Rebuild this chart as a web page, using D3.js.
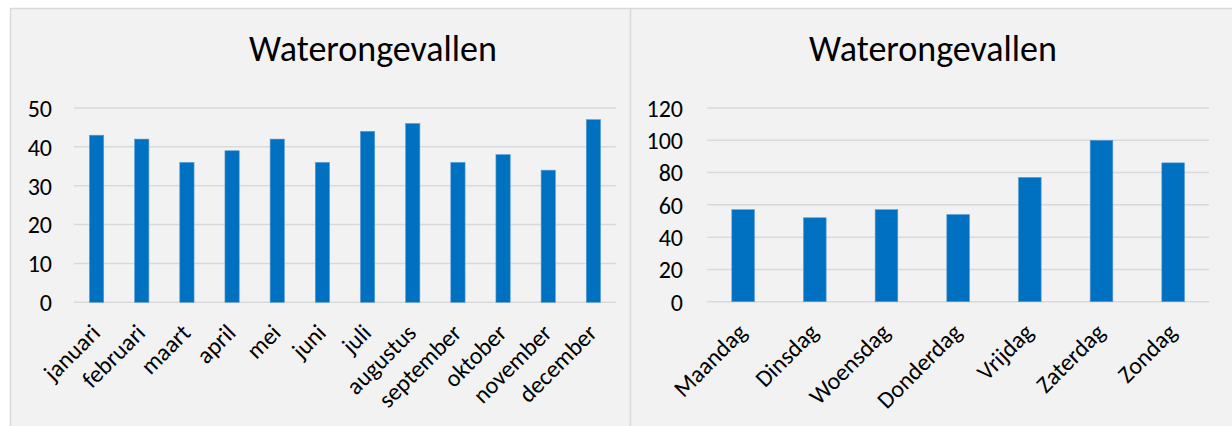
<!DOCTYPE html>
<html><head><meta charset="utf-8">
<script src="https://cdn.jsdelivr.net/npm/d3@7"></script>
<style>
html,body{margin:0;padding:0;background:#fff;}
svg{display:block;}
text{font-family:Carlito, Lato, "Open Sans", sans-serif;fill:#000;}
</style></head>
<body>
<svg id="c" width="1232" height="426"></svg>
<script>
const title = "Waterongevallen";
const months = ["januari","februari","maart","april","mei","juni","juli","augustus","september","oktober","november","december"];
const monthValues = [43,42,36,39,42,36,44,46,36,38,34,47];
const monthTicks = [0,10,20,30,40,50];
const days = ["Maandag","Dinsdag","Woensdag","Donderdag","Vrijdag","Zaterdag","Zondag"];
const dayValues = [57,52,57,54,77,100,86];
const dayTicks = [0,20,40,60,80,100,120];

const svg = d3.select("#c");
// panels
svg.append("rect").attr("x",10.5).attr("y",8.5).attr("width",620).attr("height",430)
  .attr("fill","#f2f2f2").attr("stroke","#d9d9d9").attr("stroke-width",1.5);
svg.append("rect").attr("x",630.5).attr("y",8.5).attr("width",620).attr("height",430)
  .attr("fill","#f2f2f2").attr("stroke","#d9d9d9").attr("stroke-width",1.5);

function chart(cfg){
  const g = svg.append("g");
  const x = d3.scaleBand().domain(cfg.cats).range([cfg.x0,cfg.x1]).paddingInner(cfg.pad).paddingOuter(cfg.pad/2);
  const y = d3.scaleLinear().domain([0,cfg.max]).range([cfg.y0,cfg.y1]);
  g.append("text").attr("x",cfg.tx).attr("y",61).attr("text-anchor","middle")
    .style("font-size","36px").text(title);
  // gridlines
  g.selectAll(".grid").data(cfg.ticks).join("line")
    .attr("x1",cfg.x0).attr("x2",cfg.x1)
    .attr("y1",d=>y(d)).attr("y2",d=>y(d))
    .attr("stroke","#d9d9d9").attr("stroke-width",1.5);
  // y axis labels
  const ya = d3.axisLeft(y).tickValues(cfg.ticks).tickSize(0).tickPadding(0);
  const yg = g.append("g").attr("transform",`translate(${cfg.ylab},0)`).call(ya);
  yg.select(".domain").remove();
  yg.selectAll("text").style("font-size","24px").style("font-family",null).attr("dy","0.35em").attr("fill","#000");
  // bars
  g.selectAll(".bar").data(cfg.vals).join("rect")
    .attr("x",(d,i)=>x(cfg.cats[i]))
    .attr("width",x.bandwidth())
    .attr("y",d=>y(d)).attr("height",d=>cfg.y0-y(d))
    .attr("fill","#0070c0").attr("stroke","#5b9bd5").attr("stroke-width",0.6);
  // x labels
  const xa = d3.axisBottom(x).tickSize(0).tickPadding(0);
  const xg = g.append("g").attr("transform",`translate(0,${cfg.y0})`).call(xa);
  xg.select(".domain").remove();
  xg.selectAll("text").style("font-size","24px").style("font-family",null).attr("fill","#000")
    .attr("text-anchor","end").attr("dy",null).attr("y",null)
    .attr("transform","translate(5,32) rotate(-45)");
}

chart({cats:months, vals:monthValues, ticks:monthTicks, max:50,
  x0:74, x1:616, y0:302.3, y1:108, pad:0.684, ylab:52, tx:373});
chart({cats:days, vals:dayValues, ticks:dayTicks, max:120,
  x0:707.3, x1:1209, y0:301.7, y1:108, pad:0.684, ylab:683, tx:933});
</script>
</body></html>
